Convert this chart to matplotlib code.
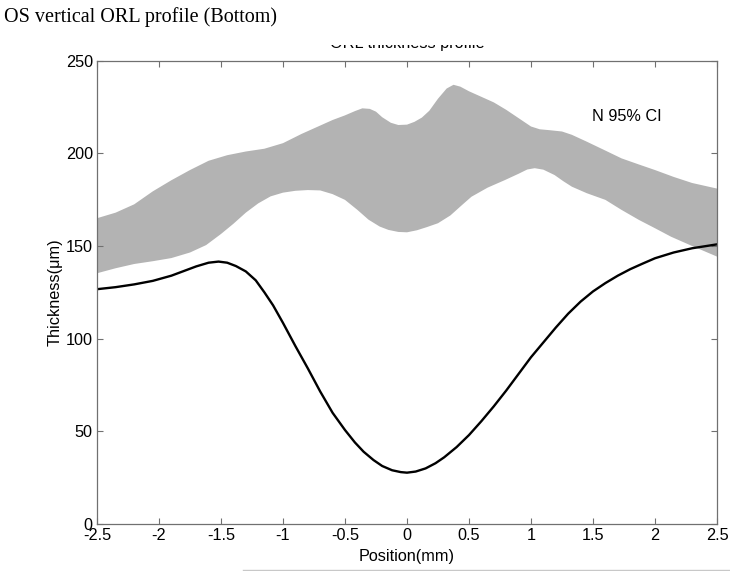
import matplotlib
matplotlib.use("Agg")
import matplotlib.pyplot as plt
from matplotlib.patches import Rectangle
from matplotlib.lines import Line2D

# normal 95% CI band
upper_x = [-2.5, -2.35, -2.2, -2.05, -1.9, -1.75, -1.6, -1.45, -1.3, -1.15,
           -1.0, -0.85, -0.7, -0.6, -0.5, -0.42, -0.36, -0.3, -0.25, -0.2,
           -0.13, -0.07, 0.0, 0.06, 0.12, 0.18, 0.25, 0.32, 0.375, 0.43,
           0.5, 0.6, 0.7, 0.8, 0.9, 1.0, 1.07, 1.15, 1.25, 1.33,
           1.45, 1.6, 1.73, 1.87, 2.0, 2.15, 2.3, 2.5]
upper_y = [165, 168, 172.5, 179.5, 185.5, 191, 196, 199, 201, 202.5,
           205.5, 210.5, 215, 218, 220.5, 222.8, 224.3, 224, 222.5, 219.5,
           216.5, 215.3, 215.5, 217, 219.3, 223, 229.5, 235, 237, 236,
           233.5, 230.5, 227.5, 223.5, 219, 214.5, 213, 212.5, 211.8, 210,
           206.3, 201.5, 197.3, 194, 191, 187.3, 184, 181]

lower_x = [-2.5, -2.35, -2.2, -2.05, -1.9, -1.75, -1.62, -1.5, -1.4, -1.3,
           -1.2, -1.1, -1.0, -0.9, -0.8, -0.7, -0.6, -0.5, -0.4, -0.31,
           -0.22, -0.15, -0.07, 0.0, 0.08, 0.16, 0.25, 0.35, 0.45, 0.52,
           0.65, 0.79, 0.9, 0.97, 1.03, 1.1, 1.19, 1.26, 1.33, 1.45,
           1.6, 1.73, 1.87, 2.0, 2.13, 2.3, 2.5]
lower_y = [135.3, 138, 140.3, 141.8, 143.5, 146.5, 150.5, 156.5, 162, 168,
           173, 176.8, 178.8, 179.8, 180.2, 180, 178, 174.9, 169.5, 164.2,
           160.5, 158.7, 157.6, 157.4, 158.5, 160.2, 162.3, 166.5, 172.5, 176.6,
           181.5, 185.6, 189, 191.3, 192, 191.2, 188.3, 185, 182, 178.5,
           174.9, 169.5, 164.1, 159.6, 155, 150, 144.3]

# measured ORL thickness
pos = [-2.5, -2.35, -2.2, -2.05, -1.9, -1.8, -1.7, -1.6, -1.52, -1.45,
       -1.38, -1.3, -1.22, -1.15, -1.08, -1.0, -0.9, -0.8, -0.7, -0.6,
       -0.5, -0.42, -0.35, -0.27, -0.2, -0.12, -0.05, 0.0, 0.07, 0.15,
       0.23, 0.3, 0.4, 0.5, 0.6, 0.7, 0.8, 0.9, 1.0, 1.1,
       1.2, 1.3, 1.4, 1.5, 1.6, 1.7, 1.8, 1.9, 2.0, 2.15,
       2.3, 2.5]
thick = [126.7, 127.8, 129.3, 131.2, 134, 136.5, 139, 141, 141.6, 141,
         139.2, 136.3, 131.5, 125, 118, 108.5, 96, 84, 71.5, 60,
         50.7, 44, 39, 34.5, 31.3, 29, 28, 27.7, 28.3, 30,
         32.8, 36, 41.5, 48, 55.5, 63.5, 72, 81, 90, 98,
         106, 113.5, 120, 125.5, 130, 134, 137.5, 140.5, 143.4, 146.5,
         148.8, 150.9]

xticks = [-2.5, -2, -1.5, -1, -0.5, 0, 0.5, 1, 1.5, 2, 2.5]
xticklabels = ['-2.5', '-2', '-1.5', '-1', '-0.5', '0', '0.5', '1', '1.5', '2', '2.5']
yticks = [0, 50, 100, 150, 200, 250]

W, H = 730, 571
fig = plt.figure(figsize=(W / 100, H / 100), dpi=100)
ax = fig.add_axes([97 / W, 1 - 524 / H, 620 / W, 463.3 / H])

# band as one closed polygon: upper edge left->right, lower edge right->left
poly_x = upper_x + lower_x[::-1]
poly_y = upper_y + lower_y[::-1]
ax.fill(poly_x, poly_y, color='#b3b3b3', lw=0)
ax.plot(pos, thick, color='black', lw=1.7)

ax.set_xlim(-2.5, 2.5)
ax.set_ylim(0, 250)
ax.set_xticks(xticks)
ax.set_xticklabels(xticklabels)
ax.set_yticks(yticks)

sans = 'Liberation Sans'
for lab in ax.get_xticklabels() + ax.get_yticklabels():
    lab.set_family(sans)
    lab.set_fontsize(11.7)
ax.tick_params(direction='in', length=4.3, width=0.8, color='#707070',
               top=True, right=True, pad=3)
for sp in ax.spines.values():
    sp.set_color('#707070')
    sp.set_linewidth(0.9)

ax.set_xlabel('Position(mm)', family=sans, fontsize=11.7)
ax.set_ylabel('Thickness(μm)', family=sans, fontsize=11.7)
ax.xaxis.set_label_coords(0.5, -0.054)
ax.yaxis.set_label_coords(-0.056, 0.5)

ax.text(1.49, 220, 'N 95% CI', family=sans, fontsize=11.7, va='center', ha='left')

# axes title, mostly hidden in the original
ax.set_title('ORL thickness profile', family=sans, fontsize=11.7, pad=9.5)
fig.patches.append(Rectangle((290 / W, 1 - 44.5 / H), 280 / W, 44.5 / H,
                             transform=fig.transFigure, facecolor='white',
                             edgecolor='none', zorder=5))

fig.text(4 / W, 1 - 22 / H, 'OS vertical ORL profile (Bottom)',
         family='Liberation Serif', fontsize=14.5, va='baseline', ha='left')

fig.lines.append(Line2D([243 / W, 1], [1.5 / H, 1.5 / H], transform=fig.transFigure,
                        color='#c8c8c8', lw=1))

fig.savefig('out.png', dpi=100)
